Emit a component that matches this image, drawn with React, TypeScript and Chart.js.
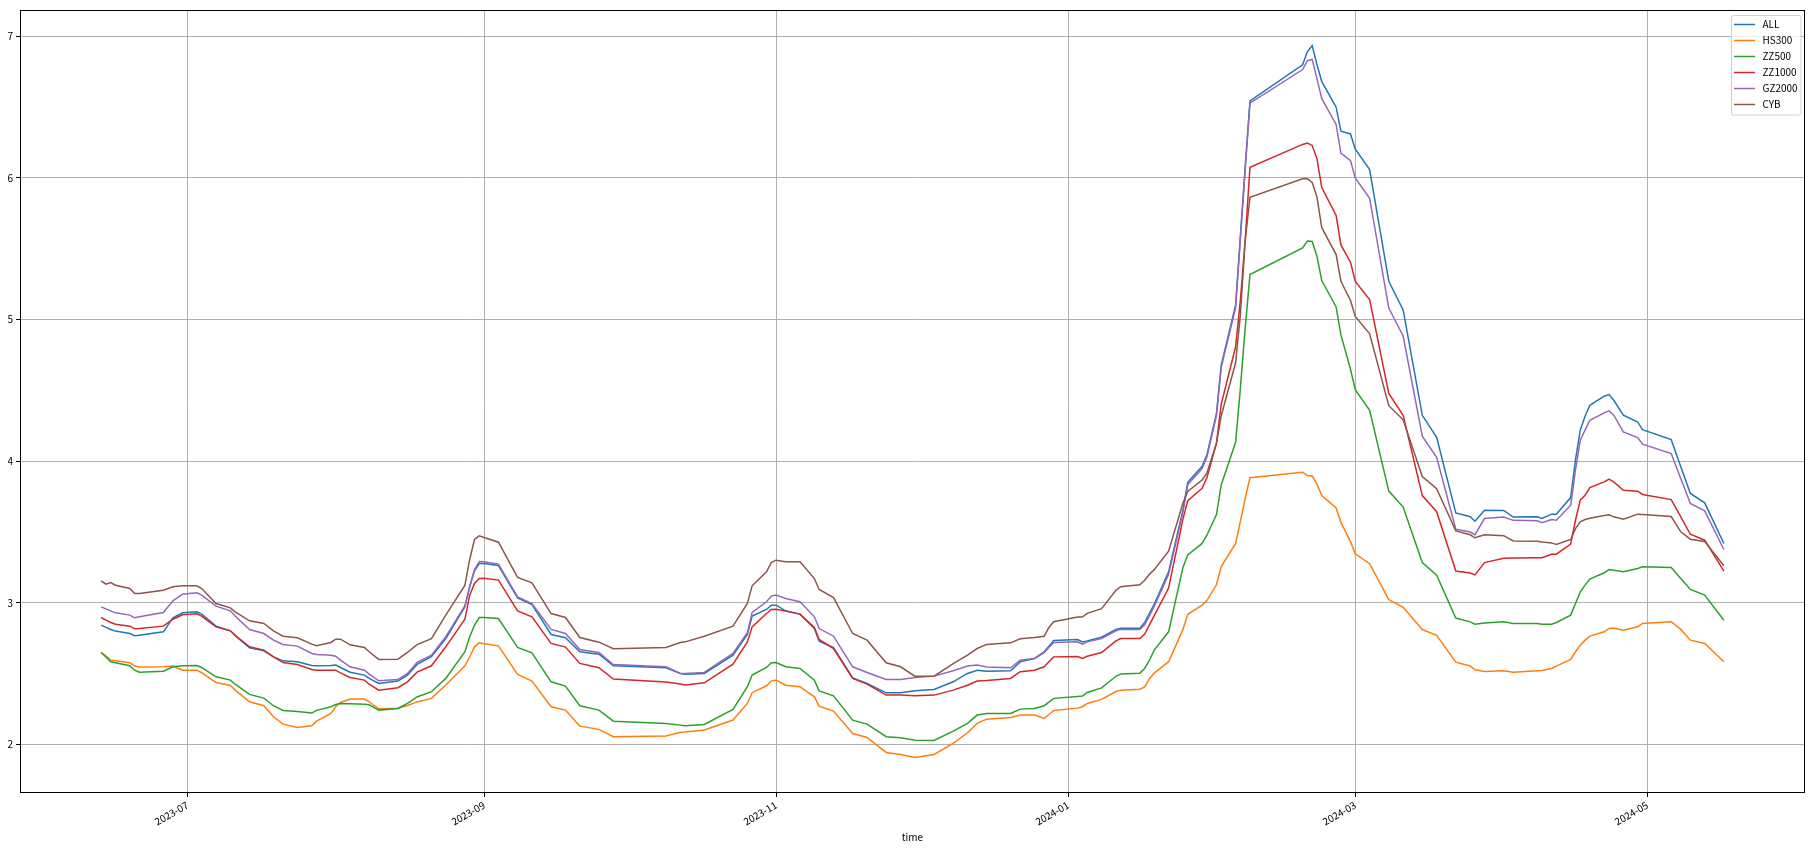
import React, { useEffect, useRef } from 'react';
import { Chart, registerables } from 'chart.js';

Chart.register(...registerables);

const DATES = [
  '2023-06-13','2023-06-14','2023-06-15','2023-06-16','2023-06-19','2023-06-20','2023-06-21','2023-06-26','2023-06-28','2023-06-30',
  '2023-07-03','2023-07-04','2023-07-07','2023-07-10','2023-07-11','2023-07-14','2023-07-17','2023-07-19','2023-07-21','2023-07-24',
  '2023-07-27','2023-07-28','2023-07-31','2023-08-01','2023-08-02','2023-08-04','2023-08-07','2023-08-08','2023-08-10','2023-08-14',
  '2023-08-16','2023-08-18','2023-08-21','2023-08-24','2023-08-28','2023-08-29','2023-08-30','2023-08-31','2023-09-01','2023-09-04',
  '2023-09-08','2023-09-11','2023-09-15','2023-09-18','2023-09-21','2023-09-25','2023-09-28','2023-10-09','2023-10-12','2023-10-13',
  '2023-10-17','2023-10-23','2023-10-26','2023-10-27','2023-10-30','2023-10-31','2023-11-01','2023-11-03','2023-11-06','2023-11-09',
  '2023-11-10','2023-11-13','2023-11-17','2023-11-20','2023-11-24','2023-11-27','2023-11-30','2023-12-04','2023-12-08','2023-12-11',
  '2023-12-13','2023-12-15','2023-12-20','2023-12-22','2023-12-25','2023-12-27','2023-12-28','2023-12-29','2024-01-03','2024-01-04',
  '2024-01-05','2024-01-08','2024-01-11','2024-01-12','2024-01-16','2024-01-17','2024-01-18','2024-01-19','2024-01-22','2024-01-25',
  '2024-01-26','2024-01-29','2024-01-30','2024-02-01','2024-02-02','2024-02-05','2024-02-06','2024-02-07','2024-02-08','2024-02-19',
  '2024-02-20','2024-02-21','2024-02-22','2024-02-23','2024-02-26','2024-02-27','2024-02-29','2024-03-01','2024-03-04','2024-03-08',
  '2024-03-11','2024-03-15','2024-03-18','2024-03-22','2024-03-25','2024-03-26','2024-03-28','2024-04-01','2024-04-03','2024-04-08',
  '2024-04-09','2024-04-11','2024-04-12','2024-04-15','2024-04-16','2024-04-17','2024-04-18','2024-04-19','2024-04-22','2024-04-23',
  '2024-04-24','2024-04-26','2024-04-29','2024-04-30','2024-05-06','2024-05-08','2024-05-10','2024-05-13','2024-05-17',
];

const ALL = [
  2.842, 2.826, 2.811, 2.800, 2.783, 2.767, 2.771, 2.795, 2.894, 2.929,
  2.936, 2.920, 2.835, 2.802, 2.767, 2.682, 2.661, 2.618, 2.590, 2.583,
  2.557, 2.555, 2.557, 2.560, 2.543, 2.510, 2.489, 2.466, 2.430, 2.447,
  2.489, 2.565, 2.619, 2.748, 2.972, 3.113, 3.226, 3.277, 3.277, 3.263,
  3.035, 2.988, 2.776, 2.753, 2.654, 2.637, 2.555, 2.541, 2.501, 2.496,
  2.501, 2.630, 2.776, 2.906, 2.953, 2.983, 2.983, 2.943, 2.920, 2.818,
  2.729, 2.684, 2.470, 2.430, 2.364, 2.364, 2.378, 2.388, 2.442, 2.501,
  2.524, 2.517, 2.520, 2.583, 2.607, 2.654, 2.694, 2.733, 2.740, 2.724,
  2.731, 2.757, 2.812, 2.821, 2.821, 2.860, 2.925, 2.990, 3.218, 3.656,
  3.851, 3.964, 4.045, 4.338, 4.679, 5.101, 5.594, 6.075, 6.545, 6.799,
  6.893, 6.935, 6.800, 6.680, 6.500, 6.330, 6.311, 6.203, 6.059, 5.270,
  5.068, 4.324, 4.168, 3.635, 3.608, 3.576, 3.654, 3.652, 3.605, 3.607,
  3.595, 3.626, 3.626, 3.743, 4.007, 4.219, 4.317, 4.395, 4.459, 4.470,
  4.430, 4.325, 4.277, 4.223, 4.153, 3.960, 3.772, 3.706, 3.419,
];

const HS300 = [
  2.649, 2.623, 2.595, 2.590, 2.576, 2.553, 2.546, 2.548, 2.553, 2.524,
  2.524, 2.506, 2.437, 2.416, 2.383, 2.301, 2.273, 2.195, 2.143, 2.120,
  2.131, 2.164, 2.218, 2.266, 2.296, 2.320, 2.320, 2.301, 2.251, 2.256,
  2.275, 2.300, 2.325, 2.419, 2.555, 2.619, 2.689, 2.717, 2.710, 2.696,
  2.494, 2.447, 2.266, 2.242, 2.129, 2.106, 2.054, 2.059, 2.085, 2.087,
  2.101, 2.172, 2.289, 2.365, 2.414, 2.447, 2.454, 2.418, 2.407, 2.336,
  2.270, 2.235, 2.077, 2.049, 1.943, 1.929, 1.908, 1.929, 2.007, 2.082,
  2.148, 2.178, 2.190, 2.207, 2.207, 2.183, 2.211, 2.240, 2.256, 2.266,
  2.289, 2.318, 2.373, 2.383, 2.390, 2.406, 2.464, 2.503, 2.584, 2.812,
  2.919, 2.984, 3.016, 3.127, 3.256, 3.419, 3.575, 3.737, 3.883, 3.922,
  3.899, 3.895, 3.838, 3.757, 3.670, 3.568, 3.432, 3.346, 3.276, 3.022,
  2.968, 2.811, 2.770, 2.581, 2.554, 2.527, 2.514, 2.520, 2.509, 2.520,
  2.522, 2.536, 2.553, 2.600, 2.654, 2.701, 2.736, 2.765, 2.795, 2.819,
  2.821, 2.807, 2.830, 2.854, 2.866, 2.812, 2.736, 2.713, 2.583,
];

const ZZ500 = [
  2.649, 2.618, 2.583, 2.576, 2.555, 2.524, 2.510, 2.517, 2.548, 2.555,
  2.557, 2.543, 2.477, 2.454, 2.425, 2.353, 2.327, 2.273, 2.240, 2.233,
  2.221, 2.240, 2.266, 2.282, 2.289, 2.287, 2.284, 2.280, 2.242, 2.254,
  2.290, 2.335, 2.372, 2.466, 2.654, 2.760, 2.842, 2.896, 2.896, 2.889,
  2.685, 2.647, 2.442, 2.412, 2.273, 2.242, 2.164, 2.148, 2.136, 2.132,
  2.141, 2.247, 2.407, 2.489, 2.543, 2.576, 2.578, 2.548, 2.536, 2.454,
  2.378, 2.343, 2.171, 2.143, 2.054, 2.047, 2.030, 2.028, 2.094, 2.148,
  2.207, 2.218, 2.218, 2.249, 2.254, 2.273, 2.298, 2.325, 2.338, 2.341,
  2.367, 2.399, 2.481, 2.497, 2.503, 2.536, 2.594, 2.666, 2.795, 3.250,
  3.338, 3.419, 3.477, 3.623, 3.834, 4.133, 4.516, 4.938, 5.318, 5.506,
  5.555, 5.552, 5.446, 5.276, 5.089, 4.892, 4.649, 4.505, 4.359, 3.789,
  3.676, 3.284, 3.195, 2.892, 2.865, 2.849, 2.857, 2.866, 2.853, 2.854,
  2.849, 2.849, 2.861, 2.913, 2.995, 3.077, 3.125, 3.167, 3.212, 3.235,
  3.230, 3.219, 3.242, 3.254, 3.249, 3.172, 3.094, 3.054, 2.877,
];

const ZZ1000 = [
  2.896, 2.877, 2.861, 2.849, 2.835, 2.816, 2.818, 2.835, 2.884, 2.915,
  2.922, 2.906, 2.830, 2.802, 2.771, 2.689, 2.666, 2.618, 2.578, 2.564,
  2.529, 2.524, 2.524, 2.524, 2.505, 2.473, 2.454, 2.425, 2.383, 2.400,
  2.442, 2.510, 2.555, 2.689, 2.884, 3.054, 3.136, 3.172, 3.174, 3.160,
  2.943, 2.901, 2.713, 2.687, 2.572, 2.541, 2.461, 2.440, 2.426, 2.419,
  2.435, 2.567, 2.724, 2.830, 2.924, 2.953, 2.955, 2.941, 2.920, 2.826,
  2.741, 2.677, 2.466, 2.426, 2.348, 2.348, 2.343, 2.348, 2.383, 2.418,
  2.447, 2.451, 2.466, 2.513, 2.524, 2.548, 2.583, 2.618, 2.620, 2.607,
  2.623, 2.649, 2.731, 2.747, 2.747, 2.779, 2.844, 2.909, 3.104, 3.591,
  3.721, 3.808, 3.883, 4.127, 4.403, 4.808, 5.138, 5.560, 6.075, 6.237,
  6.247, 6.230, 6.135, 5.932, 5.735, 5.527, 5.405, 5.270, 5.141, 4.478,
  4.324, 3.757, 3.643, 3.224, 3.210, 3.197, 3.284, 3.315, 3.317, 3.318,
  3.318, 3.343, 3.343, 3.414, 3.583, 3.725, 3.760, 3.814, 3.854, 3.873,
  3.854, 3.795, 3.788, 3.765, 3.729, 3.607, 3.484, 3.442, 3.223,
];

const GZ2000 = [
  2.971, 2.957, 2.943, 2.929, 2.913, 2.894, 2.901, 2.931, 3.014, 3.061,
  3.070, 3.054, 2.976, 2.943, 2.906, 2.811, 2.783, 2.736, 2.706, 2.694,
  2.642, 2.635, 2.630, 2.623, 2.595, 2.548, 2.524, 2.496, 2.449, 2.458,
  2.501, 2.580, 2.630, 2.760, 2.979, 3.117, 3.235, 3.292, 3.289, 3.273,
  3.042, 2.995, 2.812, 2.783, 2.670, 2.649, 2.564, 2.548, 2.501, 2.501,
  2.508, 2.642, 2.788, 2.932, 3.007, 3.047, 3.054, 3.030, 3.007, 2.901,
  2.818, 2.764, 2.548, 2.508, 2.458, 2.458, 2.473, 2.482, 2.520, 2.553,
  2.560, 2.546, 2.541, 2.595, 2.607, 2.647, 2.684, 2.719, 2.724, 2.708,
  2.724, 2.747, 2.802, 2.812, 2.812, 2.844, 2.909, 2.974, 3.201, 3.640,
  3.834, 3.948, 4.029, 4.321, 4.662, 5.084, 5.570, 6.060, 6.529, 6.766,
  6.828, 6.838, 6.700, 6.560, 6.378, 6.176, 6.122, 6.000, 5.857, 5.081,
  4.884, 4.176, 4.027, 3.519, 3.500, 3.481, 3.595, 3.606, 3.582, 3.579,
  3.565, 3.588, 3.583, 3.689, 3.936, 4.148, 4.219, 4.289, 4.341, 4.355,
  4.325, 4.207, 4.167, 4.120, 4.054, 3.877, 3.701, 3.649, 3.376,
];

const CYB = [
  3.155, 3.131, 3.143, 3.124, 3.101, 3.066, 3.066, 3.089, 3.113, 3.120,
  3.120, 3.101, 2.995, 2.964, 2.936, 2.873, 2.854, 2.802, 2.764, 2.753,
  2.708, 2.696, 2.720, 2.743, 2.743, 2.703, 2.684, 2.654, 2.600, 2.602,
  2.649, 2.705, 2.746, 2.913, 3.124, 3.306, 3.447, 3.473, 3.461, 3.428,
  3.179, 3.141, 2.924, 2.896, 2.755, 2.722, 2.675, 2.684, 2.720, 2.724,
  2.764, 2.835, 2.995, 3.120, 3.219, 3.284, 3.301, 3.289, 3.289, 3.171,
  3.094, 3.037, 2.783, 2.736, 2.576, 2.548, 2.482, 2.482, 2.571, 2.630,
  2.677, 2.706, 2.717, 2.746, 2.755, 2.764, 2.826, 2.866, 2.899, 2.899,
  2.925, 2.958, 3.088, 3.114, 3.127, 3.159, 3.201, 3.234, 3.364, 3.705,
  3.786, 3.867, 3.916, 4.127, 4.321, 4.695, 5.036, 5.555, 5.864, 5.994,
  5.994, 5.968, 5.865, 5.649, 5.459, 5.270, 5.135, 5.022, 4.900, 4.392,
  4.292, 3.892, 3.805, 3.508, 3.480, 3.459, 3.481, 3.474, 3.437, 3.435,
  3.430, 3.423, 3.412, 3.447, 3.524, 3.572, 3.588, 3.597, 3.616, 3.621,
  3.607, 3.590, 3.626, 3.623, 3.609, 3.501, 3.449, 3.433, 3.261,
];

const SERIES_NAMES = ['ALL', 'HS300', 'ZZ500', 'ZZ1000', 'GZ2000', 'CYB'];
const SERIES_VALUES = [ALL, HS300, ZZ500, ZZ1000, GZ2000, CYB];
const COLORS = ['#1f77b4', '#ff7f0e', '#2ca02c', '#d62728', '#9467bd', '#8c564b'];

const X_TICK_DATES = ['2023-07-01', '2023-09-01', '2023-11-01', '2024-01-01', '2024-03-01', '2024-05-01'];
const X_TICK_LABELS = ['2023-07', '2023-09', '2023-11', '2024-01', '2024-03', '2024-05'];
const Y_TICKS = [2, 3, 4, 5, 6, 7];
const X_TITLE = 'time';

const FONT_FAMILY = "'Noto Sans CJK SC', 'DejaVu Sans', sans-serif";

function dayNum(s: string): number {
  const [y, m, d] = s.split('-').map(Number);
  return Date.UTC(y, m - 1, d) / 86400000;
}

const framePlugin = {
  id: 'mplFrame',
  afterDatasetsDraw(chart: any) {
    const { ctx, chartArea: a } = chart;
    ctx.save();
    ctx.strokeStyle = '#000';
    ctx.lineWidth = 1;
    ctx.strokeRect(Math.round(a.left) + 0.5, Math.round(a.top) + 0.5,
      Math.round(a.right - a.left) - 1, Math.round(a.bottom - a.top) - 1);
    ctx.restore();
  },
};

const legendPlugin = {
  id: 'mplLegend',
  afterDraw(chart: any) {
    const { ctx, chartArea: a } = chart;
    const w = 69.5;
    const h = 99.5;
    const x = Math.round(a.right - 5 - w) + 0.5;
    const y = Math.round(a.top + 5) + 0.5;
    ctx.save();
    ctx.beginPath();
    const r = 2;
    ctx.moveTo(x + r, y);
    ctx.lineTo(x + w - r, y);
    ctx.arcTo(x + w, y, x + w, y + r, r);
    ctx.lineTo(x + w, y + h - r);
    ctx.arcTo(x + w, y + h, x + w - r, y + h, r);
    ctx.lineTo(x + r, y + h);
    ctx.arcTo(x, y + h, x, y + h - r, r);
    ctx.lineTo(x, y + r);
    ctx.arcTo(x, y, x + r, y, r);
    ctx.closePath();
    ctx.fillStyle = 'rgba(255,255,255,0.8)';
    ctx.fill();
    ctx.strokeStyle = '#d0d0d0';
    ctx.lineWidth = 1;
    ctx.stroke();
    ctx.font = `10px ${FONT_FAMILY}`;
    ctx.textBaseline = 'middle';
    ctx.textAlign = 'left';
    chart.data.datasets.forEach((ds: any, i: number) => {
      const cy = Math.round(y + 8 + i * 16) + 0.5;
      ctx.strokeStyle = ds.borderColor;
      ctx.lineWidth = 1.5;
      ctx.beginPath();
      ctx.moveTo(x + 2.5, cy);
      ctx.lineTo(x + 23.5, cy);
      ctx.stroke();
      ctx.fillStyle = '#000';
      ctx.fillText(ds.label, x + 31, cy);
    });
    ctx.restore();
  },
};

export default function App() {
  const canvasRef = useRef<HTMLCanvasElement | null>(null);

  useEffect(() => {
    if (!canvasRef.current) return;
    const days = DATES.map(dayNum);
    const first = days[0];
    const last = days[days.length - 1];
    const xSpan = last - first;
    const allVals = SERIES_VALUES.flat();
    const yMinData = Math.min(...allVals);
    const yMaxData = Math.max(...allVals);
    const ySpan = yMaxData - yMinData;
    const tickDays = X_TICK_DATES.map(dayNum);

    const datasets = SERIES_VALUES.map((vals, i) => ({
      label: SERIES_NAMES[i],
      data: vals.map((v, j) => ({ x: days[j], y: v })),
      borderColor: COLORS[i],
      backgroundColor: COLORS[i],
      borderWidth: 1.5,
      pointRadius: 0,
      pointHoverRadius: 0,
      tension: 0,
      fill: false,
      order: SERIES_VALUES.length - i,
    }));

    const chart = new Chart(canvasRef.current, {
      type: 'line',
      data: { datasets },
      plugins: [framePlugin, legendPlugin],
      options: {
        animation: false,
        responsive: false,
        devicePixelRatio: 1,
        layout: { padding: { left: 0, top: 2, right: 3, bottom: 0 } },
        plugins: {
          legend: { display: false },
          tooltip: { enabled: false },
          title: { display: false },
        },
        scales: {
          x: {
            type: 'linear',
            min: first - 0.05 * xSpan,
            max: last + 0.05 * xSpan,
            afterBuildTicks: (scale: any) => {
              scale.ticks = tickDays.map((v) => ({ value: v }));
            },
            afterFit: (scale: any) => {
              scale.height = 49;
              scale.paddingLeft = 0;
              scale.paddingRight = 0;
              scale.paddingTop = 0;
              scale.paddingBottom = 0;
            },
            ticks: {
              autoSkip: false,
              minRotation: 30,
              maxRotation: 30,
              padding: 2,
              color: '#000',
              font: { family: FONT_FAMILY, size: 10 },
              callback: (value: any) => {
                const idx = tickDays.indexOf(Number(value));
                return idx >= 0 ? X_TICK_LABELS[idx] : '';
              },
            },
            grid: {
              color: '#b0b0b0',
              lineWidth: 1,
              drawTicks: true,
              tickLength: 4,
              tickColor: '#000',
            },
            border: { display: false },
            title: {
              display: true,
              text: X_TITLE,
              color: '#000',
              font: { family: FONT_FAMILY, size: 10, lineHeight: 1 },
              padding: { top: 0, bottom: 0 },
            },
          },
          y: {
            type: 'linear',
            min: yMinData - 0.05 * ySpan,
            max: yMaxData + 0.05 * ySpan,
            afterBuildTicks: (scale: any) => {
              scale.ticks = Y_TICKS.map((v) => ({ value: v }));
            },
            afterFit: (scale: any) => {
              scale.width = 12;
              scale.paddingLeft = 0;
              scale.paddingRight = 0;
              scale.paddingTop = 0;
              scale.paddingBottom = 0;
            },
            ticks: {
              padding: 3,
              color: '#000',
              font: { family: FONT_FAMILY, size: 10 },
              callback: (value: any) => String(value),
            },
            grid: {
              color: '#b0b0b0',
              lineWidth: 1,
              drawTicks: true,
              tickLength: 4,
              tickColor: '#000',
            },
            border: { display: false },
          },
        },
      },
    } as any);

    return () => {
      chart.destroy();
    };
  }, []);

  return (
    <div style={{ width: 1800, height: 834 }}>
      <canvas ref={canvasRef} width={1800} height={834} style={{ display: 'block' }} />
    </div>
  );
}
